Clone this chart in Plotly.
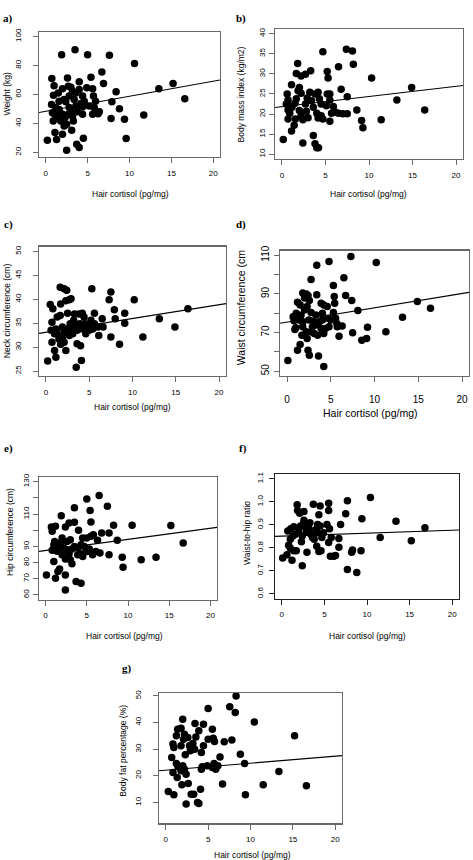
import plotly.graph_objects as go

# ---------------- data ----------------
x_a = [0.2,0.73,1.0,0.93,0.8,0.9,1.1,1.3,1.9,2.0,2.2,2.0,2.5,2.6,2.7,2.8,3.1,3.5,4.0,4.0,3.7,4.0,4.5,4.2,4.4,5.0,4.9,5.4,5.6,5.7,
       5.6,6.25,6.7,6.9,7.6,7.8,7.9,8.4,8.8,9.4,9.6,10.6,11.7,13.5,15.2,16.6,
       0.7,1.2,1.6,1.1,1.4,1.7,1.8,2.0,2.3,2.7,3.0,3.2,3.3,2.5,2.2,1.6,3.6,3.8,4.4,4.6,3.4,2.8,3.2,4.4,5.8,5.95,6.4,5.2,1.5,2.4,3.0,3.6]
y_a = [28.5,71,66,59.5,47.4,41.7,33.7,29,87.4,64,56.6,32.6,21.6,71.4,65.7,51,35.3,90.9,68.7,63.4,25.7,23.4,29.8,53.8,46.3,87.4,64.6,71.9,64,58.9,
       46.3,46.7,75.5,67.5,87,43.5,55,61.8,50.2,42.9,29.6,81.3,45.8,64,67.6,57,
       53,51,55.4,46,44,47.4,41.7,46.3,44,46.3,48.6,45,41.7,39.4,38.3,49.7,52,48,51.3,55.4,56.6,58.9,62.3,58.9,50.9,55.4,48,52,61,55,65,61]

x_b = [0.15,0.6,0.7,0.8,0.7,1.1,1.4,1.1,1.8,1.65,2.2,2.4,2.7,3.3,3.6,3.8,4.0,4.2,4.7,5.2,5.3,5.5,6.5,6.8,7.4,8.1,8.2,7.5,7.5,8.6,
       9.15,9.3,10.3,11.4,13.2,14.9,16.4,
       0.5,0.7,0.9,1.15,1.5,1.65,1.85,2.0,2.2,2.0,2.2,2.4,2.7,2.8,2.9,3.2,3.4,3.6,3.8,4.15,4.3,4.5,4.0,4.5,4.7,5.1,5.5,5.5,5.9,6.1,
       6.5,7.0,5.7,3.0,4.15,5.2,1.55]
y_b = [13.7,25,23.5,22,18.8,15.8,17.2,27.3,32.6,30.1,29.5,12.8,29.9,30.8,14.7,12.6,11.6,11.6,35.5,30.6,29,18.2,31.8,26.2,36.1,35.7,32.4,20.1,24.3,21.0,
       18.4,16.6,29,18.6,23.5,26.6,21.0,
       22.5,21,20.2,21.7,22.7,23.8,25.8,26.6,25.2,20.9,19.6,18.6,22.5,20.7,24,25.4,23.3,21.7,25,25.4,23.8,22.5,20.2,19.6,18.8,22.1,23.5,25,21.9,20.5,
       20.2,20.1,20.2,19.1,19,25,18.8]

x_c = [0.2,0.5,0.8,0.7,0.6,0.7,1.0,1.0,1.15,1.65,1.7,1.65,1.9,2.1,2.4,2.5,2.7,2.9,2.3,2.1,2.3,3.5,3.6,4.1,4.0,3.3,3.8,4.2,4.4,5.3,
       5.6,6.0,6.1,6.5,6.6,7.3,7.5,7.5,7.9,8.0,8.5,9.1,9.1,10.2,11.2,13.1,14.9,16.4,
       1.15,1.3,1.5,1.7,1.9,2.1,2.5,2.7,2.8,3.1,3.2,3.4,3.6,3.95,4.2,4.5,4.8,5.0,5.2,4.6,1.3,3.1,5.6,5.4]
y_c = [27.1,38.9,38,35.2,33.5,31,32.8,29.3,27.9,42.5,39,36.6,34.2,42.2,41.9,37.1,39.9,40.1,39.7,31,29.3,25.8,30.7,27.2,30.3,36.9,36.9,37.1,36.3,42.2,
       37.1,34.2,32.4,35.9,34.2,39.9,41.5,32.1,37.8,35.9,30.6,37.1,35,39.9,32.1,35.9,34.2,38,
       33.8,32.8,31.7,30.6,31.9,33.1,33.8,32.4,34.9,33.8,35.6,34.9,33.5,34.9,33.8,34.9,34.5,33.5,35.6,32.8,36.3,32.8,34.9,33.8]

x_d = [0.1,0.7,0.8,0.9,1.0,1.2,1.5,1.2,1.5,1.7,1.8,1.8,2.0,2.2,2.4,2.0,2.3,2.2,2.3,2.4,2.55,2.75,2.75,2.9,3.1,3.4,3.4,3.6,3.9,4.05,
       4.2,4.2,4.6,4.7,4.4,3.9,4.8,5.3,5.4,5.45,5.3,5.55,5.7,5.95,5.75,6.3,6.5,6.7,7.4,7.3,7.5,8.1,8.55,9.1,9.2,10.2,11.3,13.2,14.9,16.4,
       1.05,1.4,1.6,2.5,3.1,3.3,3.7,4.05,4.2,3.5,2.75,4.8,5.0,3.3,1.8,2.55]
y_d = [55.5,78.2,76.1,71.6,72.5,85.6,84.3,60.8,63.8,68.6,75.6,90.5,87.8,89.9,89.1,81.7,83.5,70.4,66.9,60.8,58.2,97.4,80.3,73,69.5,104.8,89.6,57.8,85.2,80,
       52.4,84.3,83.5,77.4,72.1,72.1,106.7,94.3,88.7,85.2,80.3,77.4,74.7,68.1,73,73.4,98.3,89.2,86.6,109.3,69.9,81.4,66,66.9,72.7,106.2,70.4,77.9,86.1,82.6,
       80,76.5,79,76.5,75.6,73.9,75.6,76.5,69.5,68.6,70.4,73,76.5,79.1,73,86.6]

x_e = [0.1,0.7,0.8,1.2,1.0,0.8,1.1,1.0,1.2,1.5,1.7,1.9,2.0,2.4,2.4,2.4,2.4,2.6,2.85,3.0,3.2,3.5,3.5,3.7,4.3,4.0,3.9,4.5,4.5,5.0,
       5.0,5.4,5.5,5.5,5.7,5.8,6.3,6.5,6.6,6.8,7.5,7.7,7.7,8.25,8.7,9.3,9.4,10.5,11.6,13.4,15.2,16.7,
       1.4,1.6,1.8,2.2,2.6,2.85,3.2,3.5,3.9,4.3,4.7,5.0,5.3,6.1,4.3,3.0,2.0]
y_e = [72.4,102,99.4,102.5,91,87.6,93.1,80.7,70.4,74.5,76,109,84.9,82.2,72.4,63.1,102,93.1,104.5,81.8,79.3,104.9,113.9,68.3,67.3,100,84.9,83.8,95.2,119.4,
       95.2,112.2,105.2,96.3,84.9,97.3,93.8,121.5,85.9,98.3,114.9,84.9,98.3,103.1,93.8,83.4,77.2,103.1,81.8,83.4,102.9,92.1,
       87,89.6,92.1,89,88,85.5,88.4,90,89,91.1,90,86.9,88.4,86.9,85.5,94.2,95.2]

x_f = [0.1,0.6,0.8,1.0,1.2,0.7,1.05,1.4,1.3,1.8,1.85,1.7,2.1,2.4,2.6,2.3,2.4,2.6,2.75,2.95,2.9,3.7,3.8,4.1,4.5,4.35,4.35,4.6,4.5,4.9,
       5.3,5.5,5.5,5.5,5.6,5.8,5.7,6.1,6.3,6.7,6.7,6.9,7.5,7.7,7.7,8.2,8.3,8.8,9.3,9.4,10.4,11.55,13.4,15.2,16.8,
       1.0,1.6,2.0,2.2,3.2,3.4,3.6,4.0,4.2,4.7,1.4,2.5,3.3,4.2]
y_f = [0.756,0.770,0.812,0.798,0.746,0.873,0.883,0.892,0.852,0.987,0.963,0.788,0.951,0.722,0.958,0.827,0.852,0.92,0.892,0.781,
       0.869,0.99,0.838,0.807,0.982,0.944,0.784,0.788,0.895,0.866,0.902,0.994,0.963,0.824,0.883,0.845,0.764,0.764,0.767,0.803,
       0.841,0.902,0.948,1.005,0.706,0.781,0.791,0.693,0.788,0.927,1.019,0.845,0.916,0.831,0.888,
       0.838,0.859,0.873,0.895,0.883,0.859,0.845,0.88,0.866,0.845,0.788,0.902,0.909,0.902]

x_g = [0.3,0.7,0.85,0.95,0.95,0.85,1.25,1.25,1.35,1.4,1.8,1.8,1.9,2.0,2.0,2.1,2.2,2.3,2.4,2.4,2.6,2.65,2.8,2.9,3.0,3.3,3.45,3.55,3.75,3.9,
       4.1,4.2,4.45,4.45,4.3,4.2,5.0,5.0,5.5,5.6,5.75,5.5,5.7,5.9,6.15,6.4,6.7,6.9,7.55,7.8,8.2,8.3,8.8,9.3,9.4,10.45,11.5,13.35,15.2,16.6,
       1.45,1.8,2.2,3.2,3.4,3.9,4.9]
y_g = [14.1,26.9,31.9,30.6,12.9,21.25,35,24.6,19.4,37.5,37.9,31.25,16.6,41.25,23.75,33.75,35.6,27.9,20.6,9.4,34.4,17.1,31.25,29.4,13.1,13.1,39.6,34.6,10,9.6,
       15,28.75,39.4,31.25,23.4,22.5,45.25,33.75,37.5,34.1,32.9,23.1,24.6,22.5,23.75,27.1,16.9,32.75,45.9,33.4,43.75,50,28.1,24.6,12.9,40.25,16.6,21.6,35,16.25,
       23.4,21.9,22.5,32.1,30,36.9,23.75]

# fitted regression lines (intercept, slope)
fit_intercept = [48.4, 21.85, 33.1, 75.4, 87.5, 0.851, 22.1]
fit_slope = [1.04, 0.253, 0.288, 0.74, 0.687, 0.0013, 0.264]

panel_labels = ["a)", "b)", "c)", "d)", "e)", "f)", "g)"]
y_titles = ["Weight (kg)", "Body mass index (kg/m2)", "Neck circumference (cm)",
            "Waist circumference (cm", "Hip circumference (cm)", "Waist-to-hip ratio",
            "Body fat percentage (%)"]
x_title = "Hair cortisol (pg/mg)"
x_ticks = [0, 5, 10, 15, 20]
y_ticks = [[20, 40, 60, 80, 100],
           [10, 15, 20, 25, 30, 35, 40],
           [25, 30, 35, 40, 45, 50],
           [50, 60, 70, 80, 90, 100, 110],
           [60, 70, 80, 90, 100, 110, 120, 130],
           [0.6, 0.7, 0.8, 0.9, 1.0, 1.1],
           [10, 20, 30, 40, 50]]
y_ticktext = [["20", "40", "60", "80", "100"],
              ["10", "15", "20", "25", "30", "35", "40"],
              ["25", "30", "35", "40", "45", "50"],
              ["50", "", "70", "", "90", "", "110"],
              ["60", "70", "80", "90", "", "110", "", "130"],
              ["0.6", "0.7", "0.8", "0.9", "1.0", "1.1"],
              ["10", "20", "30", "40", "50"]]
y_ranges = [[16.8, 103.2], [8.8, 41.2], [24, 51], [47.6, 112.4], [57.2, 132.8], [0.58, 1.12], [2.2, 51.1]]
x_range = [-0.8, 20.8]

xs_all = [x_a, x_b, x_c, x_d, x_e, x_f, x_g]
ys_all = [y_a, y_b, y_c, y_d, y_e, y_f, y_g]

# ---------------- layout geometry (pixels) ----------------
W, H = 473, 860
boxes = [(39, 220, 27, 153), (275, 463, 24, 155), (39, 226, 243, 373), (280, 469, 247, 373),
         (39, 217, 475, 598), (275, 459, 472, 597), (159, 342, 692, 823)]
tick_fs = [8, 8, 8, 10, 8, 8, 8]
title_fs = [8.5, 8.5, 8.5, 10.5, 8.5, 8.5, 8.5]
x_standoff = [3, 3, 3, 9, 3, 3, 3]
y_standoff = [9, 1, 9, 1, 1, 3, 9]
xtitle_pos = [(130, 190), (368, 190), (132, 404), (370, 410), (124, 635), (367, 635), (252, 855)]
ytitle_pos = [(7, 90), (241, 90), (7, 308), (241, 305), (10, 530), (247, 531), (123, 750)]
label_pos = [(8, 14), (241, 14), (8, 221), (241, 221), (8, 446), (243, 446), (127, 667)]
box_colors = ["#6a6a6a", "#6a6a6a", "#6a6a6a", "#6a6a6a", "#6a6a6a", "#222222", "#6a6a6a"]

FONT = "Liberation Sans, Arial, sans-serif"

fig = go.Figure()
layout = dict(width=W, height=H, margin=dict(l=0, r=0, t=0, b=0),
              paper_bgcolor="white", plot_bgcolor="white", showlegend=False)
annotations = []

for i in range(7):
    sfx = "" if i == 0 else str(i + 1)
    xn, yn = "x" + sfx, "y" + sfx
    x0, x1, y0, y1 = boxes[i]
    fig.add_trace(go.Scatter(x=xs_all[i], y=ys_all[i], mode="markers",
                             marker=dict(color="black", size=7.5, line=dict(width=0)),
                             xaxis=xn, yaxis=yn, hoverinfo="skip"))
    lx = x_range
    ly = [fit_intercept[i] + fit_slope[i] * v for v in lx]
    fig.add_trace(go.Scatter(x=lx, y=ly, mode="lines", line=dict(color="black", width=1.1),
                             xaxis=xn, yaxis=yn, hoverinfo="skip"))
    common = dict(showgrid=False, zeroline=False, showline=True, mirror=True,
                  linecolor=box_colors[i], linewidth=1.3, ticks="outside", ticklen=5,
                  tickwidth=1, tickcolor=box_colors[i],
                  tickfont=dict(family=FONT, size=tick_fs[i], color="black"))
    layout["xaxis" + sfx] = dict(common, domain=[x0 / W, x1 / W], range=x_range, anchor=yn,
                                 tickmode="array", tickvals=x_ticks,
                                 ticktext=[str(t) for t in x_ticks],
                                 ticklabelstandoff=x_standoff[i])
    layout["yaxis" + sfx] = dict(common, domain=[1 - y1 / H, 1 - y0 / H], range=y_ranges[i],
                                 anchor=xn, tickmode="array", tickvals=y_ticks[i],
                                 ticktext=y_ticktext[i], tickangle=-90,
                                 ticklabelstandoff=y_standoff[i])
    tx, ty = xtitle_pos[i]
    annotations.append(dict(text=x_title, x=tx / W, y=1 - ty / H, xref="paper", yref="paper",
                            showarrow=False, xanchor="center", yanchor="middle",
                            font=dict(family=FONT, size=title_fs[i], color="black")))
    vx, vy = ytitle_pos[i]
    annotations.append(dict(text=y_titles[i], x=vx / W, y=1 - vy / H, xref="paper", yref="paper",
                            showarrow=False, xanchor="center", yanchor="middle", textangle=-90,
                            font=dict(family=FONT, size=title_fs[i], color="black")))
    px_, py_ = label_pos[i]
    annotations.append(dict(text="<b>" + panel_labels[i] + "</b>", x=px_ / W, y=1 - py_ / H,
                            xref="paper", yref="paper", showarrow=False,
                            xanchor="center", yanchor="middle",
                            font=dict(family="Liberation Serif, Times New Roman, serif",
                                      size=11, color="black")))

layout["annotations"] = annotations
fig.update_layout(**layout)
fig.write_html("out.html", config={"displayModeBar": False, "staticPlot": True},
               post_script="document.body.style.margin='0px';document.body.style.overflow='hidden';")
